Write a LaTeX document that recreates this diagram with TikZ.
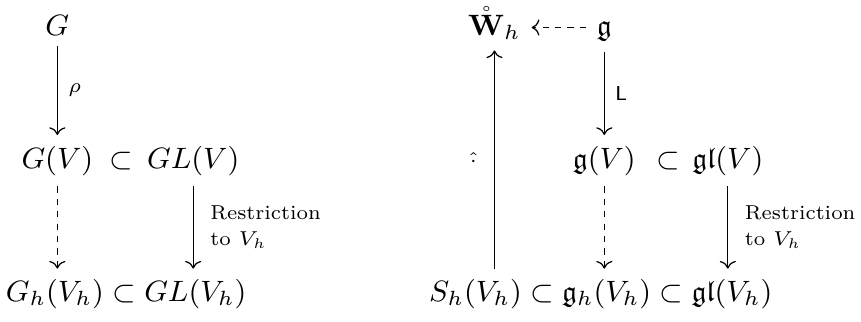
\RequirePackage{fix-cm}
\documentclass[tikz,border=0pt]{standalone}
\usepackage{amsmath,amssymb}
\usetikzlibrary{arrows.meta}

\begin{document}
\begin{tikzpicture}[>=To, font=\fontsize{9.5}{11.4}\selectfont,
    obj/.style={anchor=base},
    etq/.style={font=\fontsize{6.5}{8.2}\selectfont},
    punteada/.style={dash pattern=on 2pt off 2pt}]

\useasboundingbox (0,0) rectangle (9.76,3.65);

% =====================================================
% IZQUIERDA: EL GRUPO G
% =====================================================

% --- Objetos ---
\node[obj] (G)    at (0.65, 3.25) {$G$};
\node[obj] (GV)   at (0.65, 1.745) {$G(V)$};
\node[obj] (sub1) at (1.38, 1.745) {$\subset$};
\node[obj] (GLV)  at (2.19, 1.745) {$GL(V)$};
% fila inferior en un solo nodo
\node[obj] (filaL) at (1.43, 0.23) {$G_h(V_h) \subset GL(V_h)$};

% --- Flechas ---
\draw[->] (G) -- node[etq, right] {$\rho$} (G |- GV.north);
\draw[->, punteada] (GV) -- (GV |- filaL.north);
\draw[->] (GLV) -- node[etq, right, xshift=2pt, align=left] {Restriction\\to $V_h$}
    (GLV |- filaL.north);

% =====================================================
% DERECHA: EL ÁLGEBRA g
% =====================================================

% --- Objetos ---
\node[obj] (W)    at (5.605, 3.25) {$\mathring{\mathbf{W}}_h$};
\node[obj] (g)    at (6.85, 3.25) {$\mathfrak{g}$};
\node[obj] (gV)   at (6.85, 1.745) {$\mathfrak{g}(V)$};
\node[obj] (sub3) at (7.57, 1.745) {$\subset$};
\node[obj] (glV)  at (8.25, 1.745) {$\mathfrak{gl}(V)$};
% fila inferior en un solo nodo
\node[obj] (filaR) at (6.81, 0.23)
    {$S_h(V_h) \subset \mathfrak{g}_h(V_h) \subset \mathfrak{gl}(V_h)$};

% --- Flechas ---
\draw[->, punteada] ([yshift=2.5pt]g.base west) -- ([yshift=2.5pt]W.base east);
\draw[->] (W |- filaR.north) -- node[etq, left, xshift=-2pt] {$\hat{\cdot}$} (W);
\draw[->] (g) -- node[etq, right] {$\mathsf{L}$} (g |- gV.north);
\draw[->, punteada] (gV) -- (gV |- filaR.north);
\draw[->] (glV) -- node[etq, right, xshift=2pt, align=left] {Restriction\\to $V_h$}
    (glV |- filaR.north);

\end{tikzpicture}
\end{document}
